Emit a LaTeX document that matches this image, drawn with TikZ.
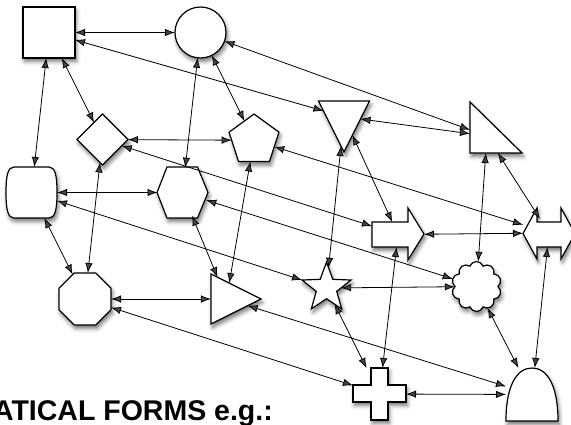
\documentclass[tikz,border=0pt]{standalone}
\usepackage{fontspec}
\newfontfamily\labfont{Liberation Sans}
\usetikzlibrary{shapes.geometric,shapes.symbols,arrows.meta,shadows.blur}
\begin{document}
\begin{tikzpicture}[x=1pt,y=-1pt,
  shp/.style={draw=black, line width=1.2pt, fill=white, line join=miter,
    blur shadow={shadow xshift=1.5pt, shadow yshift=-3.5pt, shadow blur radius=4pt, shadow opacity=55}},
  nd/.style={inner sep=0pt, outer sep=0pt},
  hid/.style={nd, draw=none, fill=none},
  lnk/.style={{Latex[length=10pt,width=7.5pt]}-{Latex[length=10pt,width=7.5pt]}, line width=0.8pt}]
\useasboundingbox (0,0) rectangle (571,424);

% --- shapes ---
\node[shp, nd, rectangle, minimum width=52pt, minimum height=51pt] (sq) at (49,32.5) {};
\node[shp, nd, circle, minimum size=51pt] (ci) at (200.5,32.5) {};
\node[shp, nd, diamond, minimum width=51pt, minimum height=51pt] (di) at (102.5,139.5) {};
\node[shp, nd, regular polygon, regular polygon sides=5, minimum size=52.5pt] (pe) at (254,140.3) {};
\node[shp, nd, isosceles triangle, isosceles triangle stretches, shape border rotate=-90,
  minimum width=51pt, minimum height=51pt, anchor=apex] (it) at (344,152) {};
% right-angled triangle
\path[shp] (470,102) -- (470,153) -- (522,153) -- cycle;
\node[hid, rectangle, minimum size=34pt] (rt) at (487,136) {};
% can
\path[shp] (14,167) -- (49,167) .. controls (55,167) and (57,175) .. (57,192.5)
  .. controls (57,210) and (55,218) .. (49,218) -- (14,218)
  .. controls (8,218) and (6,210) .. (6,192.5) .. controls (6,175) and (8,167) .. (14,167) -- cycle;
\node[hid, rectangle, minimum size=51pt] (can) at (31.5,192.5) {};
% hexagon
\path[shp] (157,192.5) -- (167,167) -- (197.5,167) -- (208,192.5) -- (197.5,218) -- (167,218) -- cycle;
\node[hid, circle, minimum size=50pt] (hx) at (182.5,192.5) {};
% single arrow
\path[shp] (372,222) -- (408,222) -- (408,208) -- (424,234) -- (408,260) -- (408,247) -- (372,247) -- cycle;
\node[hid, rectangle, minimum width=52pt, minimum height=25pt] (sa) at (398,234.5) {};
% double arrow
\path[shp] (523,233.5) -- (537,208) -- (537,222) -- (561,222) -- (561,208) -- (575,233.5)
  -- (561,259) -- (561,247) -- (537,247) -- (537,259) -- cycle;
\node[hid, rectangle, minimum width=52pt, minimum height=28pt] (da) at (549,233) {};
% octagon
\node[shp, nd, regular polygon, regular polygon sides=8, minimum size=56.3pt] (oc) at (85,299) {};
% right-pointing triangle
\node[shp, nd, isosceles triangle, isosceles triangle stretches, shape border rotate=0,
  minimum width=50pt, minimum height=50pt, anchor=apex] (tr) at (261,299) {};
% star
\node[shp, nd, star, star points=5, star point ratio=2.4, minimum size=51.6pt] (st) at (326.5,288) {};
% cloud
\node[shp, nd, cloud, cloud puffs=10, cloud puff arc=140, aspect=1, minimum width=50pt, minimum height=50pt] (cl) at (476.5,286.5) {};
% cross
\path[shp] (371,368) -- (388,368) -- (388,385) -- (406,385) -- (406,402) -- (388,402) -- (388,420)
  -- (371,420) -- (371,402) -- (353,402) -- (353,385) -- (371,385) -- cycle;
\node[hid, rectangle, minimum width=53pt, minimum height=52pt] (cr) at (379.5,394) {};
% bullet
\path[shp] (506,421) .. controls (506,385) and (517,368) .. (532,368)
  .. controls (547,368) and (558,385) .. (558,421) -- cycle;
\node[hid, rectangle, minimum width=52pt, minimum height=53pt] (bu) at (532,394.5) {};

% --- title text ---
\node[anchor=base east, inner sep=0pt, font=\labfont\bfseries\fontsize{28.5}{30}\selectfont] (tt) at (273,420) {ATICAL FORMS e.g.:};

% --- connectors ---
\draw[lnk] (sq) -- (ci);
\draw[lnk] (sq) -- (it);
\draw[lnk] (ci) -- (rt);
\draw[lnk] (it) -- (rt);
\draw[lnk] (sq) -- (di);
\draw[lnk] (sq) -- (can);
\draw[lnk] (ci) -- (hx);
\draw[lnk] (ci) -- (pe);
\draw[lnk] (di) -- (pe);
\draw[lnk] (di) -- (sa);
\draw[lnk] (pe) -- (da);
\draw[lnk] (can) -- (hx);
\draw[lnk] (can) -- (st);
\draw[lnk] (can) -- (oc);
\draw[lnk] (di) -- (oc);
\draw[lnk] (hx) -- (cl);
\draw[lnk] (pe) -- (tr);
\draw[lnk] (hx) -- (tr);
\draw[lnk] (oc) -- (tr);
\draw[lnk] (tr) -- (bu);
\draw[lnk] (oc) -- (cr);
\draw[lnk] (it) -- (st);
\draw[lnk] (it) -- (sa);
\draw[lnk] (rt) -- (cl);
\draw[lnk] (rt) -- (da);
\draw[lnk] (sa) -- (da);
\draw[lnk] (sa) -- (cr);
\draw[lnk] (st) -- (cl);
\draw[lnk] (st) -- (cr);
\draw[lnk] (cl) -- (bu);
\draw[lnk] (da) -- (bu);
\draw[lnk] (cr) -- (bu);
\end{tikzpicture}
\end{document}
